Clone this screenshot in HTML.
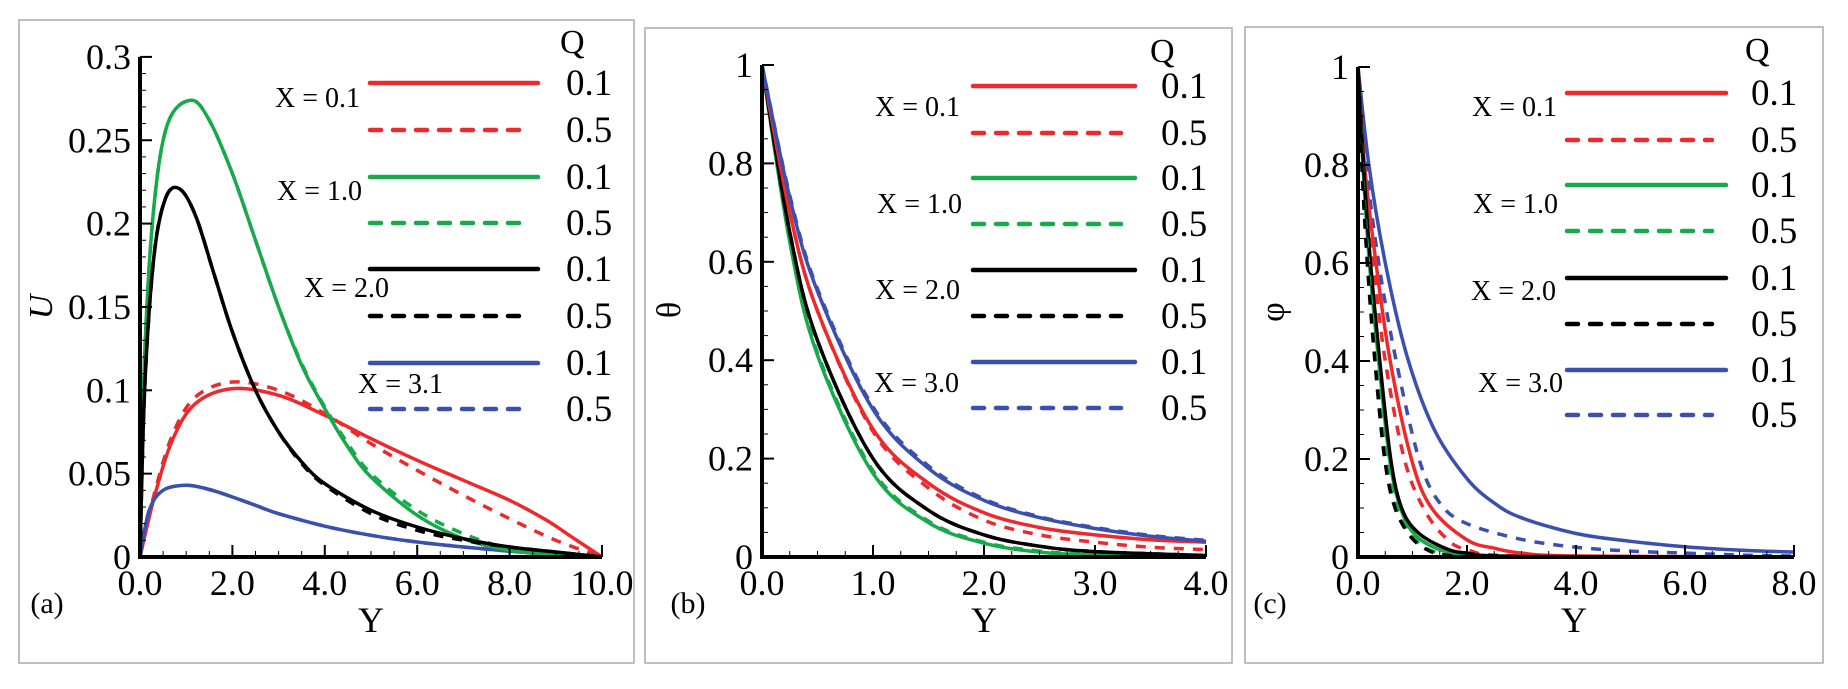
<!DOCTYPE html>
<html><head><meta charset="utf-8"><style>
html,body{margin:0;padding:0;background:#fff;}
svg{display:block;font-family:"Liberation Serif","Times New Roman",serif;}
text{font-family:"Liberation Serif","Times New Roman",serif;}
</style></head><body>
<svg id="s" width="1848" height="689" xmlns="http://www.w3.org/2000/svg">
<rect x="19" y="20" width="615" height="643" fill="none" stroke="#aaa" stroke-width="1.5"/>
<rect x="645" y="28" width="587" height="635" fill="none" stroke="#aaa" stroke-width="1.5"/>
<rect x="1245" y="27" width="578" height="636" fill="none" stroke="#aaa" stroke-width="1.5"/>
</svg>
<script>
const S=document.getElementById('s');const NS='http://www.w3.org/2000/svg';
function el(t,a,txt){const e=document.createElementNS(NS,t);for(const k in a)e.setAttribute(k,a[k]);if(t==='text')e.setAttribute('font-family','Liberation Serif, Times New Roman, serif');if(txt!==undefined)e.textContent=txt;S.appendChild(e);return e;}
const C={r:'#ec2a2e',g:'#18a94b',k:'#000',b:'#3b4fae'};
function cr(pts){let d='M'+pts[0][0].toFixed(1)+','+pts[0][1].toFixed(1);
 for(let i=0;i<pts.length-1;i++){const p0=pts[Math.max(i-1,0)],p1=pts[i],p2=pts[i+1],p3=pts[Math.min(i+2,pts.length-1)];
 const c1=[p1[0]+(p2[0]-p0[0])/6,p1[1]+(p2[1]-p0[1])/6],c2=[p2[0]-(p3[0]-p1[0])/6,p2[1]-(p3[1]-p1[1])/6];
 d+='C'+c1[0].toFixed(1)+','+c1[1].toFixed(1)+' '+c2[0].toFixed(1)+','+c2[1].toFixed(1)+' '+p2[0].toFixed(1)+','+p2[1].toFixed(1);}
 return d;}
function panel(p){
 const X=v=>p.x0+v*p.xs, Y=v=>p.y0-v*p.ys;
 p.curves.forEach(c=>{el('path',{d:cr(c.pts.map(q=>[X(q[0]),Y(q[1])])),fill:'none',stroke:C[c.c],'stroke-width':3.5,'stroke-dasharray':c.d?'10 9':'none','stroke-linecap':'butt'});});
 el('path',{d:`M${p.x0},${Y(p.ymax)}V${p.y0}H${X(p.xmax)}`,fill:'none',stroke:'#000','stroke-width':4});
 for(let v=0;v<=p.xmax+1e-9;v+=p.xmin){const maj=Math.abs(v/p.xmaj-Math.round(v/p.xmaj))<1e-6;el('line',{x1:X(v),x2:X(v),y1:p.y0,y2:p.y0-(maj?12:6),stroke:'#000','stroke-width':maj?2:1});}
 for(let v=0;v<=p.ymax+1e-9;v+=p.ymin){const maj=Math.abs(v/p.ymaj-Math.round(v/p.ymaj))<1e-6;el('line',{x1:p.x0,x2:p.x0+(maj?12:6),y1:Y(v),y2:Y(v),stroke:'#000','stroke-width':maj?2:1});}
 p.ylab.forEach(([v,t])=>el('text',{x:p.x0-9,y:Y(v)+12,'font-size':36,'text-anchor':'end'},t));
 p.xlab.forEach(([v,t])=>el('text',{x:X(v),y:p.y0+38,'font-size':36,'text-anchor':'middle'},t));
 el('text',{x:p.xl,y:632,'font-size':36,'text-anchor':'middle'},'Y');
 el('text',{x:p.pl,y:613,'font-size':30,'text-anchor':'middle'},p.pt);
 el('text',{x:p.ax,y:p.ay,'font-size':34,'text-anchor':'middle','font-style':p.ital?'italic':'normal',transform:`rotate(-90 ${p.ax} ${p.ay})`},p.an);
 el('text',{x:p.qx,y:p.qy,'font-size':34},'Q');
 const cols=['r','r','g','g','k','k','b','b'];
 p.rows.forEach((ry,i)=>{const d=i%2==1;el('line',{x1:p.l1,x2:d?p.l2-14:p.l2,y1:ry,y2:ry,stroke:C[cols[i]],'stroke-width':4.5,'stroke-dasharray':d?'11 12':'none','stroke-linecap':'round'});
  el('text',{x:p.nx,y:ry+12,'font-size':37},d?'0.5':'0.1');});
 p.labs.forEach(([x,y,t])=>el('text',{x:x,y:y,'font-size':28},t));
}
const rng=(a,b,s)=>{const r=[];for(let v=a;v<=b+1e-9;v+=s)r.push(v);return r;};
const blueA=[[0,0],[0.2,0.028],[0.5,0.04],[1,0.043],[1.5,0.0405],[2,0.036],[2.5,0.031],[3,0.026],[4,0.0185],[5,0.013],[6,0.009],[7,0.006],[8,0.0035],[9,0.0015],[10,0]];
panel({x0:140,y0:557,xs:46.2,ys:1667,xmax:10,ymax:0.3,xmaj:2,xmin:0.5,ymaj:0.05,ymin:0.01,
 ylab:[[0,'0'],[0.05,'0.05'],[0.1,'0.1'],[0.15,'0.15'],[0.2,'0.2'],[0.25,'0.25'],[0.3,'0.3']],
 xlab:rng(0,10,2).map(v=>[v,v.toFixed(1)]),xl:371,pl:47,pt:'(a)',ax:52,ay:307,an:'U',ital:true,
 qx:560,qy:53,rows:[83,130,177,223,269,316,363,409],l1:370,l2:538,nx:566,
 labs:[[275,107,'X = 0.1'],[277,200,'X = 1.0'],[304,297,'X = 2.0'],[358,393,'X = 3.1']],
 curves:[
 {c:'r',d:1,pts:[[0,0],[0.3,0.037],[0.7,0.073],[1.2,0.096],[2,0.105],[3,0.1],[4,0.086],[5,0.068],[6,0.052],[7,0.037],[8,0.023],[9,0.01],[10,0]]},
 {c:'r',pts:[[0,0],[0.3,0.035],[0.7,0.07],[1.2,0.092],[2,0.101],[3,0.097],[4,0.085],[5,0.071],[6,0.058],[7,0.046],[8,0.034],[8.8,0.022],[9.4,0.011],[10,0]]},
 {c:'b',d:1,pts:blueA},
 {c:'b',pts:blueA},
 {c:'g',d:1,pts:[[0,0],[0.1,0.12],[0.3,0.21],[0.6,0.26],[1.1,0.274],[1.5,0.262],[2,0.23],[2.5,0.19],[3,0.15],[3.5,0.116],[4,0.09],[4.5,0.068],[5,0.05],[6,0.028],[7,0.014],[8,0.005],[9,0.001],[10,0]]},
 {c:'g',pts:[[0,0],[0.1,0.12],[0.3,0.21],[0.6,0.26],[1.1,0.274],[1.5,0.262],[2,0.23],[2.5,0.19],[3,0.15],[3.5,0.115],[4,0.089],[4.5,0.066],[5,0.048],[6,0.025],[7,0.011],[8,0.004],[9,0.001],[10,0]]},
 {c:'k',d:1,pts:[[0,0],[0.1,0.1],[0.3,0.18],[0.55,0.215],[0.85,0.221],[1.2,0.205],[1.6,0.17],[2,0.135],[2.5,0.1],[3,0.075],[3.5,0.056],[4,0.043],[5,0.026],[6,0.016],[7,0.01],[8,0.006],[9,0.003],[10,0]]},
 {c:'k',pts:[[0,0],[0.1,0.1],[0.3,0.18],[0.55,0.215],[0.85,0.221],[1.2,0.205],[1.6,0.17],[2,0.135],[2.5,0.1],[3,0.075],[3.5,0.057],[4,0.044],[5,0.028],[6,0.018],[7,0.011],[8,0.006],[9,0.003],[10,0]]}
 ]});
panel({x0:762,y0:557,xs:111,ys:492,xmax:4,ymax:1,xmaj:1,xmin:0.25,ymaj:0.2,ymin:0.05,
 ylab:[[0,'0'],[0.2,'0.2'],[0.4,'0.4'],[0.6,'0.6'],[0.8,'0.8'],[1,'1']],
 xlab:rng(0,4,1).map(v=>[v,v.toFixed(1)]),xl:984,pl:688,pt:'(b)',ax:680,ay:310,an:'θ',
 qx:1150,qy:62,rows:[86,133,178,224,270,316,362,408],l1:973,l2:1135,nx:1161,
 labs:[[875,116,'X = 0.1'],[877,213,'X = 1.0'],[875,299,'X = 2.0'],[874,392,'X = 3.0']],
 curves:[
 {c:'g',pts:[[0,1],[0.25,0.64],[0.5,0.41],[1,0.17],[1.5,0.07],[2,0.028],[2.5,0.01],[3,0.004],[4,0]]},
 {c:'g',d:1,pts:[[0,1],[0.25,0.645],[0.5,0.415],[1,0.175],[1.5,0.073],[2,0.03],[2.5,0.012],[3,0.005],[4,0]]},
 {c:'k',d:1,pts:[[0,1],[0.25,0.66],[0.5,0.44],[1,0.2],[1.5,0.095],[2,0.045],[2.5,0.022],[3,0.011],[4,0.003]]},
 {c:'k',pts:[[0,1],[0.25,0.66],[0.5,0.44],[1,0.2],[1.5,0.095],[2,0.045],[2.5,0.022],[3,0.011],[4,0.003]]},
 {c:'r',d:1,pts:[[0,1],[0.25,0.7],[0.5,0.5],[1,0.255],[1.5,0.14],[2,0.075],[2.5,0.045],[3,0.03],[3.5,0.02],[4,0.015]]},
 {c:'r',pts:[[0,1],[0.25,0.7],[0.5,0.5],[1,0.26],[1.5,0.15],[2,0.09],[2.5,0.06],[3,0.045],[3.5,0.035],[4,0.03]]},
 {c:'b',pts:[[0,1],[0.25,0.73],[0.5,0.54],[1,0.3],[1.5,0.18],[2,0.115],[2.5,0.08],[3,0.058],[3.5,0.042],[4,0.032]]},
 {c:'b',d:1,pts:[[0,1],[0.25,0.735],[0.5,0.545],[1,0.305],[1.5,0.185],[2,0.118],[2.5,0.082],[3,0.06],[3.5,0.044],[4,0.034]]}
 ]});
panel({x0:1358,y0:557,xs:54.5,ys:490,xmax:8,ymax:1,xmaj:2,xmin:0.5,ymaj:0.2,ymin:0.05,
 ylab:[[0,'0'],[0.2,'0.2'],[0.4,'0.4'],[0.6,'0.6'],[0.8,'0.8'],[1,'1']],
 xlab:rng(0,8,2).map(v=>[v,v.toFixed(1)]),xl:1574,pl:1270,pt:'(c)',ax:1284,ay:312,an:'φ',
 qx:1745,qy:61,rows:[93,140,185,231,278,324,370,415],l1:1567,l2:1726,nx:1751,
 labs:[[1472,116,'X = 0.1'],[1473,213,'X = 1.0'],[1471,300,'X = 2.0'],[1478,392,'X = 3.0']],
 curves:[
 {c:'b',pts:[[0,1],[0.2,0.8],[0.5,0.6],[0.9,0.41],[1.4,0.26],[2,0.16],[2.5,0.11],[3,0.08],[4,0.048],[5,0.032],[6,0.021],[7,0.014],[8,0.01]]},
 {c:'b',d:1,pts:[[0,1],[0.15,0.8],[0.38,0.6],[0.7,0.4],[1.12,0.2],[1.5,0.11],[2,0.068],[3,0.036],[4,0.02],[5,0.012],[6,0.008],[7,0.004],[8,0.002]]},
 {c:'r',pts:[[0,1],[0.12,0.8],[0.33,0.6],[0.59,0.4],[0.98,0.2],[1.35,0.1],[2,0.035],[2.5,0.018],[3,0.008],[4,0.002],[8,0]]},
 {c:'r',d:1,pts:[[0,1],[0.1,0.8],[0.28,0.6],[0.5,0.4],[0.85,0.2],[1.2,0.1],[1.6,0.04],[2,0.015],[3,0.002],[8,0]]},
 {c:'g',pts:[[0,1],[0.09,0.8],[0.21,0.6],[0.38,0.4],[0.58,0.2],[0.78,0.1],[1.05,0.045],[1.5,0.015],[2,0.005],[3,0],[8,0]]},
 {c:'k',pts:[[0,1],[0.1,0.8],[0.23,0.6],[0.4,0.4],[0.6,0.2],[0.8,0.1],[1.1,0.05],[1.6,0.018],[2,0.008],[3,0.001],[8,0]]},
 {c:'g',d:1,pts:[[0,1],[0.08,0.8],[0.19,0.6],[0.34,0.4],[0.52,0.2],[0.72,0.1],[1.02,0.04],[1.3,0.015],[1.7,0.004],[2.2,0]]},
 {c:'k',d:1,pts:[[0,1],[0.07,0.8],[0.17,0.6],[0.31,0.4],[0.49,0.2],[0.68,0.1],[0.98,0.04],[1.3,0.013],[1.6,0.004],[2,0]]}
 ]});
</script>
</body></html>
